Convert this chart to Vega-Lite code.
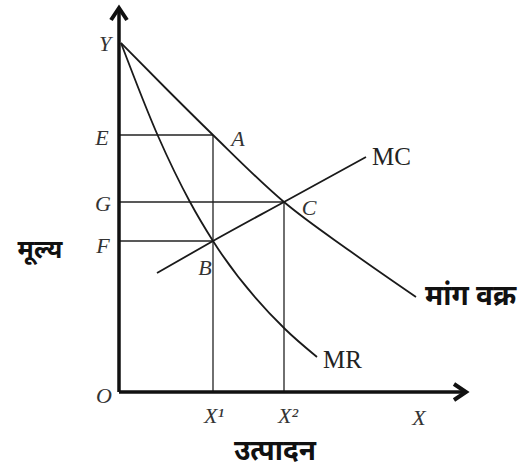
{
  "$schema": "https://vega.github.io/schema/vega-lite/v6.json",
  "width": 523,
  "height": 469,
  "autosize": "none",
  "padding": 0,
  "background": "white",
  "config": {"view": {"stroke": null}},
  "datasets": {
    "guides": [
      {"x": 0, "y": 25.7, "x2": 9.4, "y2": 25.7},
      {"x": 0, "y": 19.0, "x2": 16.5, "y2": 19.0},
      {"x": 0, "y": 15.1, "x2": 9.4, "y2": 15.1},
      {"x": 9.4, "y": 0, "x2": 9.4, "y2": 25.7},
      {"x": 16.5, "y": 0, "x2": 16.5, "y2": 19.0}
    ],
    "curves": [
      {"s": "D", "o": 1, "x": 0.2, "y": 34.9},
      {"s": "D", "o": 2, "x": 4.8, "y": 30.25},
      {"s": "D", "o": 3, "x": 9.4, "y": 25.7},
      {"s": "D", "o": 4, "x": 16.5, "y": 19.0},
      {"s": "D", "o": 5, "x": 23.1, "y": 14.1},
      {"s": "D", "o": 6, "x": 29.7, "y": 9.5},
      {"s": "MR", "o": 1, "x": 0.2, "y": 34.9},
      {"s": "MR", "o": 2, "x": 3.9, "y": 25.6},
      {"s": "MR", "o": 3, "x": 7.1, "y": 19.0},
      {"s": "MR", "o": 4, "x": 9.4, "y": 15.1},
      {"s": "MR", "o": 5, "x": 16.6, "y": 6.3},
      {"s": "MR", "o": 6, "x": 19.8, "y": 3.5},
      {"s": "MC", "o": 1, "x": 3.8, "y": 11.9},
      {"s": "MC", "o": 2, "x": 9.4, "y": 15.1},
      {"s": "MC", "o": 3, "x": 16.5, "y": 19.0},
      {"s": "MC", "o": 4, "x": 24.7, "y": 23.5}
    ],
    "axes": [
      {"x": 0, "y": 0, "x2": 34.4, "y2": 0},
      {"x": 0, "y": 0, "x2": 0, "y2": 38.1}
    ],
    "arrows": [
      {"x": 34.1, "y": 0, "a": 0},
      {"x": 0, "y": 37.8, "a": -90}
    ],
    "italic": [
      {"t": "Y", "x": -1.4, "y": 34.8},
      {"t": "E", "x": -1.7, "y": 25.4},
      {"t": "G", "x": -1.6, "y": 18.8},
      {"t": "F", "x": -1.6, "y": 14.6},
      {"t": "O", "x": -1.5, "y": -0.4},
      {"t": "A", "x": 11.9, "y": 25.3},
      {"t": "C", "x": 19.0, "y": 18.4},
      {"t": "B", "x": 8.6, "y": 12.4},
      {"t": "X¹", "x": 9.5, "y": -2.4},
      {"t": "X²", "x": 16.9, "y": -2.4},
      {"t": "X", "x": 30.0, "y": -2.6}
    ],
    "roman": [
      {"t": "MC", "x": 25.3, "y": 23.5},
      {"t": "MR", "x": 20.4, "y": 3.2}
    ],
    "hindiLeft": [
      {"t": "मांग वक्र", "x": 30.6, "y": 9.5}
    ],
    "hindiCenter": [
      {"t": "मूल्य", "x": -7.9, "y": 14.2, "fs": 25},
      {"t": "उत्पादन", "x": 15.6, "y": -6.0, "fs": 28}
    ]
  },
  "encoding": {
    "x": {"field": "x", "type": "quantitative", "axis": null, "scale": {"domain": [-11.9, 40.4], "nice": false, "zero": false}},
    "y": {"field": "y", "type": "quantitative", "axis": null, "scale": {"domain": [-7.7, 39.2], "nice": false, "zero": false}}
  },
  "layer": [
    {
      "data": {"name": "guides"},
      "mark": {"type": "rule", "color": "#222", "strokeWidth": 1.3},
      "encoding": {"x2": {"field": "x2"}, "y2": {"field": "y2"}}
    },
    {
      "data": {"name": "curves"},
      "mark": {"type": "line", "color": "#1a1a1a", "strokeWidth": 1.8, "interpolate": "monotone"},
      "encoding": {"detail": {"field": "s"}, "order": {"field": "o", "type": "quantitative"}}
    },
    {
      "data": {"name": "axes"},
      "mark": {"type": "rule", "color": "#111", "strokeWidth": 3.5},
      "encoding": {"x2": {"field": "x2"}, "y2": {"field": "y2"}}
    },
    {
      "data": {"name": "arrows"},
      "mark": {"type": "point", "shape": "M -0.75 -1 L 0.75 0 L -0.75 1", "filled": false, "color": "#111", "strokeWidth": 4, "size": 256, "opacity": 1, "strokeJoin": "miter"},
      "encoding": {"angle": {"field": "a", "type": "quantitative", "scale": null}}
    },
    {
      "data": {"name": "italic"},
      "mark": {"type": "text", "font": "Liberation Serif", "fontStyle": "italic", "fontSize": 22, "color": "#333", "align": "center", "baseline": "middle"},
      "encoding": {"text": {"field": "t"}}
    },
    {
      "data": {"name": "roman"},
      "mark": {"type": "text", "font": "Liberation Serif", "fontSize": 25, "color": "#222", "align": "left", "baseline": "middle"},
      "encoding": {"text": {"field": "t"}}
    },
    {
      "data": {"name": "hindiLeft"},
      "mark": {"type": "text", "font": "Noto Sans", "fontWeight": "bold", "fontSize": 28, "color": "#111", "align": "left", "baseline": "middle"},
      "encoding": {"text": {"field": "t"}}
    },
    {
      "data": {"name": "hindiCenter"},
      "mark": {"type": "text", "font": "Noto Sans", "fontWeight": "bold", "color": "#111", "align": "center", "baseline": "middle"},
      "encoding": {"text": {"field": "t"}, "size": {"field": "fs", "type": "quantitative", "scale": null}}
    }
  ]
}
